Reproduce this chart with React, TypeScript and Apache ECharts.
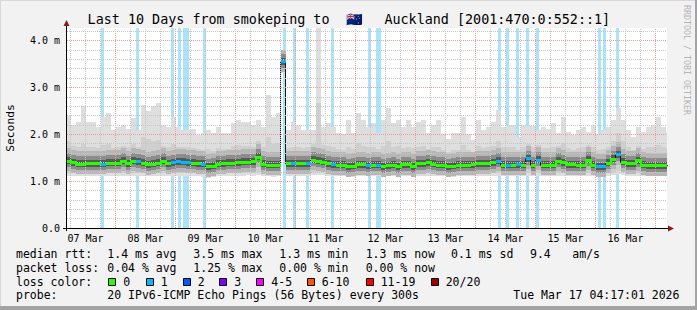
import React, { useEffect, useRef } from 'react';
import * as echarts from 'echarts';

const MONO = '"DejaVu Sans Mono", monospace';

// x axis: hours after 07 Mar 00:00
const X_MIN = 4.6;
const X_MAX = 244.6;
const BIN_START = 4;
const BIN_HOURS = 2;
const Y_MAX = 4.27;

const dayLabels = ['07 Mar', '08 Mar', '09 Mar', '10 Mar', '11 Mar', '12 Mar', '13 Mar', '14 Mar', '15 Mar', '16 Mar'];
const dayLabelHours = [12, 36, 60, 84, 108, 132, 156, 180, 204, 228];
const yTickValues = [0, 1, 2, 3, 4];
const yTickLabels = ['0.0', '1.0 m', '2.0 m', '3.0 m', '4.0 m'];

// median rtt (ms) per 2-hour bin
const median = [
  1.43, 1.39, 1.36, 1.36, 1.37, 1.37, 1.37, 1.36, 1.38, 1.38,
  1.38, 1.43, 1.37, 1.42, 1.41, 1.38, 1.35, 1.36, 1.38, 1.42,
  1.37, 1.39, 1.41, 1.40, 1.39, 1.38, 1.37, 1.36, 1.31, 1.32,
  1.36, 1.37, 1.38, 1.38, 1.39, 1.40, 1.40, 1.41, 1.51, 1.36,
  1.34, 1.34, 1.34, 3.55, 1.37, 1.37, 1.37, 1.37, 1.37, 1.45,
  1.43, 1.40, 1.37, 1.35, 1.34, 1.34, 1.31, 1.32, 1.35, 1.35,
  1.33, 1.34, 1.34, 1.31, 1.33, 1.34, 1.31, 1.35, 1.35, 1.31,
  1.37, 1.37, 1.39, 1.36, 1.34, 1.34, 1.31, 1.32, 1.34, 1.34,
  1.34, 1.35, 1.37, 1.37, 1.37, 1.39, 1.42, 1.34, 1.34, 1.34,
  1.35, 1.34, 1.48, 1.34, 1.45, 1.34, 1.34, 1.34, 1.42, 1.39,
  1.35, 1.35, 1.34, 1.34, 1.45, 1.34, 1.31, 1.31, 1.38, 1.47,
  1.56, 1.40, 1.37, 1.37, 1.44, 1.34, 1.33, 1.33, 1.33, 1.33,
  1.33,
];

// highest ping per bin (top of the lightest smoke)
const smokeMax = [
  2.40, 2.20, 2.27, 2.60, 2.27, 2.27, 2.15, 2.38, 2.45, 2.09,
  2.16, 2.20, 2.12, 2.35, 2.10, 2.63, 2.50, 2.60, 2.66, 2.20,
  2.16, 2.38, 2.16, 2.09, 2.09, 2.12, 1.99, 2.02, 2.09, 2.02,
  2.16, 2.02, 2.02, 2.25, 2.31, 2.27, 2.27, 2.20, 2.31, 2.16,
  2.84, 2.38, 2.45, 3.80, 2.09, 2.27, 2.20, 2.09, 2.09, 2.09,
  4.27, 2.16, 2.24, 2.16, 2.02, 2.00, 2.31, 2.02, 2.45, 2.31,
  2.16, 2.24, 2.02, 2.31, 2.56, 2.24, 2.31, 2.16, 2.31, 2.16,
  2.27, 2.31, 2.02, 2.20, 2.31, 2.00, 1.90, 2.02, 2.02, 2.38,
  2.00, 1.88, 2.31, 2.09, 2.16, 2.27, 2.52, 2.16, 2.20, 2.20,
  1.95, 2.20, 2.18, 2.18, 2.09, 2.16, 2.12, 2.24, 2.02, 2.38,
  2.05, 1.99, 2.09, 2.16, 2.05, 2.20, 2.00, 2.09, 2.16, 2.31,
  2.56, 2.30, 2.09, 1.95, 2.16, 2.05, 2.16, 2.20, 2.38, 2.16,
  2.05,
];

// upper edge of the second smoke layer
const smokeHi = [
  1.85, 1.75, 1.72, 1.80, 1.74, 1.72, 1.70, 1.78, 1.80, 1.70,
  1.72, 1.75, 1.72, 1.80, 1.74, 1.95, 1.90, 1.85, 1.88, 1.75,
  1.72, 1.80, 1.74, 1.72, 1.72, 1.70, 1.68, 1.66, 1.68, 1.65,
  1.70, 1.68, 1.68, 1.75, 1.78, 1.76, 1.75, 1.74, 1.85, 1.72,
  1.95, 1.80, 1.82, 3.72, 1.70, 1.74, 1.72, 1.70, 1.72, 1.80,
  2.67, 1.78, 1.75, 1.72, 1.68, 1.66, 1.74, 1.68, 1.82, 1.75,
  1.72, 1.74, 1.68, 1.76, 1.85, 1.74, 1.76, 1.70, 1.74, 1.70,
  1.74, 1.76, 1.68, 1.72, 1.74, 1.66, 1.62, 1.66, 1.66, 1.78,
  1.66, 1.62, 1.76, 1.70, 1.72, 1.75, 1.85, 1.72, 1.72, 1.72,
  1.66, 1.72, 1.80, 1.72, 1.78, 1.70, 1.70, 1.74, 1.75, 1.82,
  1.70, 1.66, 1.70, 1.72, 1.78, 1.72, 1.66, 1.68, 1.74, 1.85,
  2.02, 1.85, 1.72, 1.66, 1.75, 1.68, 1.72, 1.72, 1.78, 1.72,
  1.68,
];

// lowest ping per bin (bottom of the smoke)
const smokeMin = [
  1.12, 1.10, 1.11, 1.10, 1.12, 1.11, 1.10, 1.12, 1.11, 1.12,
  1.11, 1.12, 1.10, 1.12, 1.11, 1.10, 1.11, 1.12, 1.10, 1.11,
  1.12, 1.11, 1.12, 1.11, 1.12, 1.11, 1.10, 1.09, 1.07, 1.08,
  1.10, 1.11, 1.12, 1.12, 1.11, 1.12, 1.13, 1.12, 1.14, 1.11,
  1.10, 1.09, 1.10, 3.30, 1.11, 1.12, 1.12, 1.11, 1.12, 1.13,
  1.14, 1.13, 1.12, 1.11, 1.10, 1.10, 1.08, 1.09, 1.10, 1.11,
  1.10, 1.11, 1.10, 1.09, 1.10, 1.11, 1.09, 1.11, 1.10, 1.09,
  1.11, 1.12, 1.12, 1.11, 1.10, 1.10, 1.08, 1.09, 1.10, 1.10,
  1.11, 1.11, 1.12, 1.12, 1.11, 1.12, 1.12, 1.10, 1.10, 1.11,
  1.11, 1.10, 1.12, 1.10, 1.12, 1.10, 1.10, 1.11, 1.12, 1.12,
  1.11, 1.10, 1.10, 1.11, 1.12, 1.10, 1.09, 1.09, 1.11, 1.13,
  1.15, 1.13, 1.12, 1.11, 1.12, 1.10, 1.10, 1.10, 1.10, 1.10,
  1.10,
];

// hours (after 07 Mar 00:00) in which 1 of 20 pings was lost
const lossHours = [18, 32, 46, 49, 51, 52, 59, 91, 95, 100, 110, 125, 128, 129, 177, 180, 184, 188, 192, 217, 219, 224];

const titleLead = 'Last 10 Days from smokeping to';
const titleFlag = '🇳🇿';
const titleTail = 'Auckland [2001:470:0:552::1]';
const rttHead = 'median rtt:';
const rttStats = ['1.4 ms avg', '3.5 ms max', '1.3 ms min', '1.3 ms now', '0.1 ms sd', '9.4', 'am/s'];
const lossHead = 'packet loss:';
const lossStats = ['0.04 % avg', '1.25 % max', '0.00 % min', '0.00 % now'];
const colorHead = 'loss color:';
const lossClassLabels = ['0', '1', '2', '3', '4-5', '6-10', '11-19', '20/20'];
const lossClassColors = ['#26ff00', '#00b8ff', '#0059ff', '#7e00ff', '#ff00ff', '#ff5500', '#ff0000', '#a10000'];
const probeHead = 'probe:';
const probeText = '20 IPv6-ICMP Echo Pings (56 Bytes) every 300s';
const stampText = 'Tue Mar 17 04:17:01 2026';
const creditText = 'RRDTOOL / TOBI OETIKER';

// layout (pixels)
const COL_X = 16;
const rttX = [107.3, 193.3, 279.3, 365.7, 451, 530, 572.3];
const lossX = [107.3, 193.3, 279.3, 365.7];
const boxX = [108.3, 145.7, 182.7, 219.3, 256.3, 306.7, 365.7, 430.7];
const ROW_Y = [254.2, 267.8, 281.6, 295.3];

const STRIPE = '#aae4fa';
const GRID_MINOR = '#c6c6c6';
const GRID_MAJOR = '#ea9c9c';

function buildOption() {
  const lossBins = new Set(lossHours.map((h) => Math.floor((h - BIN_START) / BIN_HOURS)));
  const bins = median.map((m, k) => [
    BIN_START + k * BIN_HOURS,
    BIN_START + (k + 1) * BIN_HOURS,
    smokeMin[k],
    smokeMax[k],
    smokeHi[k],
    m,
    lossBins.has(k) ? 1 : 0,
    k > 0 ? median[k - 1] : m,
    k > 0 ? (lossBins.has(k - 1) ? 1 : 0) : (lossBins.has(k) ? 1 : 0),
  ]);

  const xEdges = (params: any, api: any) => {
    const cs = params.coordSys;
    const left = Math.max(Math.round(api.coord([api.value(0), 0])[0]), cs.x);
    const right = Math.min(Math.round(api.coord([api.value(1), 0])[0]), cs.x + cs.width);
    return [left, right];
  };

  const smokeItem = (params: any, api: any) => {
    const [left, right] = xEdges(params, api);
    if (right <= left) return null;
    const x0 = api.value(0);
    const yLo = Math.round(api.coord([x0, api.value(2)])[1]);
    const yHi = Math.round(api.coord([x0, api.value(3)])[1]);
    const yMid = Math.round(api.coord([x0, api.value(4)])[1]);
    const yMed = Math.round(api.coord([x0, api.value(5)])[1]);
    const w = right - left;
    const layer = (top: number, bottom: number, fill: string) => {
      const t = Math.max(top, yHi);
      const b = Math.min(bottom, yLo);
      if (b <= t) return null;
      return { type: 'rect', shape: { x: left, y: t, width: w, height: b - t }, style: { fill } };
    };
    const children = [
      layer(yHi, yLo, '#dedede'),
      layer(yMid, yLo - 3, '#cfcfcf'),
      layer(yMed - 13, yMed + 10, '#b6b6b6'),
      layer(yMed - 8, yMed + 6, '#8c8c8c'),
      layer(yMed - 4, yMed + 3, '#585858'),
    ].filter(Boolean);
    return { type: 'group', children };
  };

  const stripeItem = (params: any, api: any) => {
    const h = api.value(0);
    const p0 = api.coord([h, Y_MAX]);
    const p1 = api.coord([h + 1, 0]);
    const left = Math.round(p0[0]);
    const width = Math.max(3, Math.round(p1[0]) - left);
    return { type: 'rect', shape: { x: left, y: p0[1], width, height: p1[1] - p0[1] }, style: { fill: STRIPE } };
  };

  const medianItem = (params: any, api: any) => {
    const [left, right] = xEdges(params, api);
    if (right <= left) return null;
    const x0 = api.value(0);
    const loss = api.value(6);
    const y = api.coord([x0, api.value(5)])[1];
    const py = api.coord([x0, api.value(7)])[1];
    const fill = loss ? lossClassColors[1] : lossClassColors[0];
    const children: any[] = [
      { type: 'rect', shape: { x: left, y: Math.round(y - 1.5), width: right - left, height: 3 }, style: { fill } },
    ];
    if (params.dataIndex > 0 && api.value(8) === loss && Math.abs(py - y) > 1) {
      const t = Math.round(Math.min(py, y) - 1.5);
      const b = Math.round(Math.max(py, y) + 1.5);
      children.push({ type: 'rect', shape: { x: left - 1, y: t, width: 2, height: b - t }, style: { fill } });
    }
    return { type: 'group', children };
  };

  const gridLines: any[] = [];
  for (let h = 6; h < X_MAX; h += 6) {
    if (h <= X_MIN) continue;
    gridLines.push({ xAxis: h, lineStyle: { color: h % 24 === 0 ? GRID_MAJOR : GRID_MINOR, type: [1, 1], width: 1 } });
  }
  for (let i = 1; i * 0.2 < Y_MAX; i++) {
    const v = Math.round(i * 2) / 10;
    gridLines.push({ yAxis: v, lineStyle: { color: i % 5 === 0 ? GRID_MAJOR : GRID_MINOR, type: [1, 1], width: 1 } });
  }

  const txt = (text: string, x: number, y: number, extra: any = {}) => ({
    type: 'text',
    x,
    y,
    z: 100,
    silent: true,
    style: { text, fill: '#000', font: `11.5px ${MONO}`, align: 'left', verticalAlign: 'middle', ...extra },
  });

  const graphics: any[] = [
    { type: 'rect', z: 100, shape: { x: 0, y: 0, width: 697, height: 1 }, style: { fill: '#d8d8d8' } },
    { type: 'rect', z: 100, shape: { x: 0, y: 0, width: 1, height: 310 }, style: { fill: '#d8d8d8' } },
    { type: 'rect', z: 100, shape: { x: 695, y: 0, width: 2, height: 310 }, style: { fill: '#a3a3a3' } },
    { type: 'rect', z: 100, shape: { x: 0, y: 306, width: 697, height: 4 }, style: { fill: '#a3a3a3' } },
    { type: 'line', z: 100, shape: { x1: 66.5, y1: 231, x2: 66.5, y2: 25 }, style: { stroke: '#000', lineWidth: 1 } },
    { type: 'line', z: 100, shape: { x1: 63, y1: 228.5, x2: 669, y2: 228.5 }, style: { stroke: '#000', lineWidth: 1 } },
    { type: 'polygon', z: 100, shape: { points: [[63.5, 26], [69.5, 26], [66.5, 20]] }, style: { fill: '#8b1a1a' } },
    { type: 'polygon', z: 100, shape: { points: [[668, 225.5], [668, 231.5], [674, 228.5]] }, style: { fill: '#8b1a1a' } },
    txt(titleLead, 87.6, 19.3, { font: `13.4px ${MONO}` }),
    txt(titleFlag, 346, 19.3, { font: `13.4px ${MONO}` }),
    txt(titleTail, 384.4, 19.3, { font: `13.4px ${MONO}` }),
    { type: 'text', x: 10.5, y: 128, rotation: Math.PI / 2, z: 100, style: { text: 'Seconds', fill: '#000', font: `11.3px ${MONO}`, align: 'center', verticalAlign: 'middle' } },
    { type: 'text', x: 687, y: 5, rotation: -Math.PI / 2, z: 100, style: { text: creditText, fill: '#b4b4b4', font: `8.3px ${MONO}`, align: 'left', verticalAlign: 'middle' } },
    txt(rttHead, COL_X, ROW_Y[0]),
    ...rttStats.map((s, i) => txt(s, rttX[i], ROW_Y[0])),
    txt(lossHead, COL_X, ROW_Y[1]),
    ...lossStats.map((s, i) => txt(s, lossX[i], ROW_Y[1])),
    txt(colorHead, COL_X, ROW_Y[2]),
    ...lossClassLabels.map((s, i) => txt(s, boxX[i] + 15, ROW_Y[2])),
    ...lossClassColors.map((c, i) => ({
      type: 'rect', z: 100,
      shape: { x: Math.round(boxX[i]) + 0.5, y: 278.5, width: 7, height: 7 },
      style: { fill: c, stroke: '#000', lineWidth: 1 },
    })),
    txt(probeHead, COL_X, ROW_Y[3]),
    txt(probeText, rttX[0], ROW_Y[3]),
    txt(stampText, 513.3, ROW_Y[3]),
  ];

  return {
    animation: false,
    backgroundColor: '#f2f2f2',
    grid: {
      left: 67, top: 28, width: 600, height: 200,
      show: true, backgroundColor: '#ffffff', borderWidth: 0,
      containLabel: false, outerBoundsMode: 'none',
    },
    xAxis: {
      type: 'value', min: X_MIN, max: X_MAX,
      axisLine: { show: false }, axisTick: { show: false }, splitLine: { show: false },
      axisLabel: {
        customValues: dayLabelHours,
        formatter: (v: number) => {
          const i = dayLabelHours.indexOf(v);
          return i >= 0 ? dayLabels[i] : '';
        },
        color: '#000', fontFamily: MONO, fontSize: 10, margin: 5,
        showMinLabel: true, showMaxLabel: true, hideOverlap: false,
      },
    },
    yAxis: {
      type: 'value', min: 0, max: Y_MAX, interval: 1,
      axisLine: { show: false }, axisTick: { show: false }, splitLine: { show: false },
      axisLabel: {
        customValues: yTickValues,
        formatter: (v: number) => {
          const i = yTickValues.indexOf(v);
          return i >= 0 ? yTickLabels[i] : '';
        },
        color: '#000', fontFamily: MONO, fontSize: 10, margin: 7,
      },
    },
    graphic: { elements: graphics },
    series: [
      {
        type: 'custom', name: 'loss', z: 1, silent: true,
        data: lossHours.map((h) => [h, h + 1]),
        renderItem: stripeItem,
      },
      {
        type: 'custom', name: 'smoke', z: 2, silent: true,
        data: bins,
        renderItem: smokeItem,
      },
      {
        type: 'line', name: 'grid', z: 3, silent: true,
        data: [[X_MIN, 0]], symbol: 'none', lineStyle: { opacity: 0 },
        markLine: { silent: true, symbol: ['none', 'none'], label: { show: false }, animation: false, data: gridLines },
      },
      {
        type: 'line', name: 'median', z: 4, silent: true,
        data: median.map((m, k) => [BIN_START + k * BIN_HOURS + BIN_HOURS / 2, m]),
        step: 'middle', symbol: 'none', lineStyle: { color: '#1a1a1a', width: 1 },
      },
      {
        type: 'custom', name: 'median loss colour', z: 5, silent: true,
        data: bins,
        renderItem: medianItem,
      },
    ],
  };
}

export default function App() {
  const ref = useRef<HTMLDivElement>(null);
  useEffect(() => {
    const chart = echarts.init(ref.current!, null, { renderer: 'svg' });
    chart.setOption(buildOption() as any);
    return () => chart.dispose();
  }, []);
  return <div ref={ref} style={{ position: 'fixed', left: 0, top: 0, width: 697, height: 310 }} />;
}
